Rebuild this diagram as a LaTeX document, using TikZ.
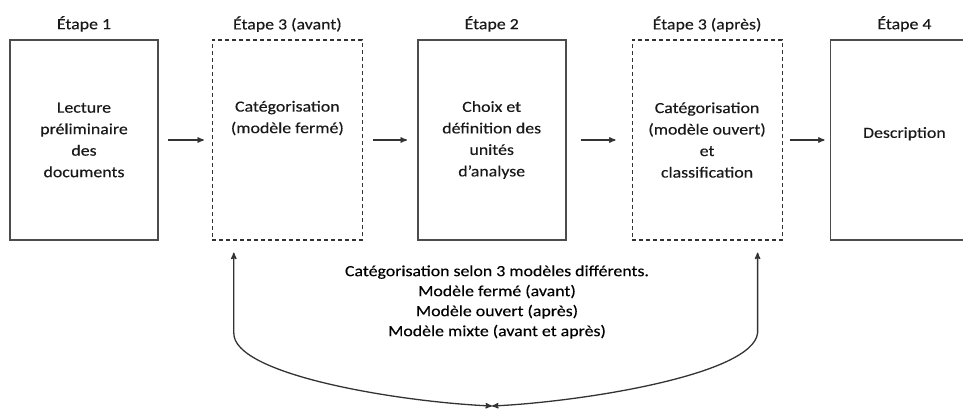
\documentclass[tikz,border=0pt]{standalone}
\usepackage{fontspec}
\setmainfont{Carlito}[FakeStretch=1.15,FakeBold=0.3]
\usetikzlibrary{arrows,positioning}
\begin{document}
\begin{tikzpicture}[x=1pt,y=-1pt,>=stealth',font=\fontsize{15.5}{21.5}\selectfont]

  \tikzstyle{stepbox}=[rectangle,draw=black!70,line width=1.6pt,minimum width=148pt,
  			  minimum height=200pt,align=center,text=black!90,inner sep=0pt]
  \tikzstyle{dashed box}=[stepbox,minimum width=150pt,line width=1.1pt,
  			  draw=black!80,dash pattern=on 4pt off 3pt]
  \tikzstyle{link}=[->,line width=1.3pt,black!80]
  \tikzstyle{every label}=[black!90,label distance=4pt]

  \useasboundingbox (0,0) rectangle (963,408);
  \clip (0,0) rectangle (963,408);

  % Steps
  \node [stepbox,label=above:{Étape 1}] (b1) at (84,140) {Lecture\\préliminaire\\des\\documents};
  \node [dashed box,label=above:{Étape 3 (avant)},text depth=46pt] (b2) [right=53pt of b1]
    {Catégorisation\\(modèle fermé)};
  \node [stepbox,label=above:{Étape 2}] (b3) [right=54pt of b2]
    {Choix et\\définition des\\unités\\d’analyse};
  \node [dashed box,label=above:{Étape 3 (après)}] (b4) [right=65pt of b3]
    {Catégorisation\\(modèle ouvert)\\et\\classification};
  \node [stepbox,label=above:{Étape 4},text depth=15pt] (b5) [right=47pt of b4] {Description};

  \draw [link,shorten <=9pt,shorten >=8pt]  (b1.east) -- (b2.west);
  \draw [link,shorten <=10pt,shorten >=10pt] (b2.east) -- (b3.west);
  \draw [link,shorten <=14pt,shorten >=16pt] (b3.east) -- (b4.west);
  \draw [link,shorten <=7pt,shorten >=5pt]  (b4.east) -- (b5.west);

  % Models
  \node [align=center,font=\fontsize{15.5}{20}\selectfont] (models) at (497,302)
    {Catégorisation selon 3 modèles différents.\\Modèle fermé (avant)\\Modèle ouvert (après)\\Modèle mixte (avant et après)};

  \coordinate (meet) at (492,406);
  \coordinate (l) at ([xshift=22pt,yshift=-12pt]b2.south west);
  \coordinate (r) at ([xshift=-25pt,yshift=-12pt]b4.south east);
  \draw [link,<->] (l) -- (l |- 0,333) .. controls (233,375) and (400,402) .. (meet);
  \draw [link,<->] (r) -- (r |- 0,333) .. controls (753,375) and (580,402) .. (meet);
\end{tikzpicture}
\end{document}
